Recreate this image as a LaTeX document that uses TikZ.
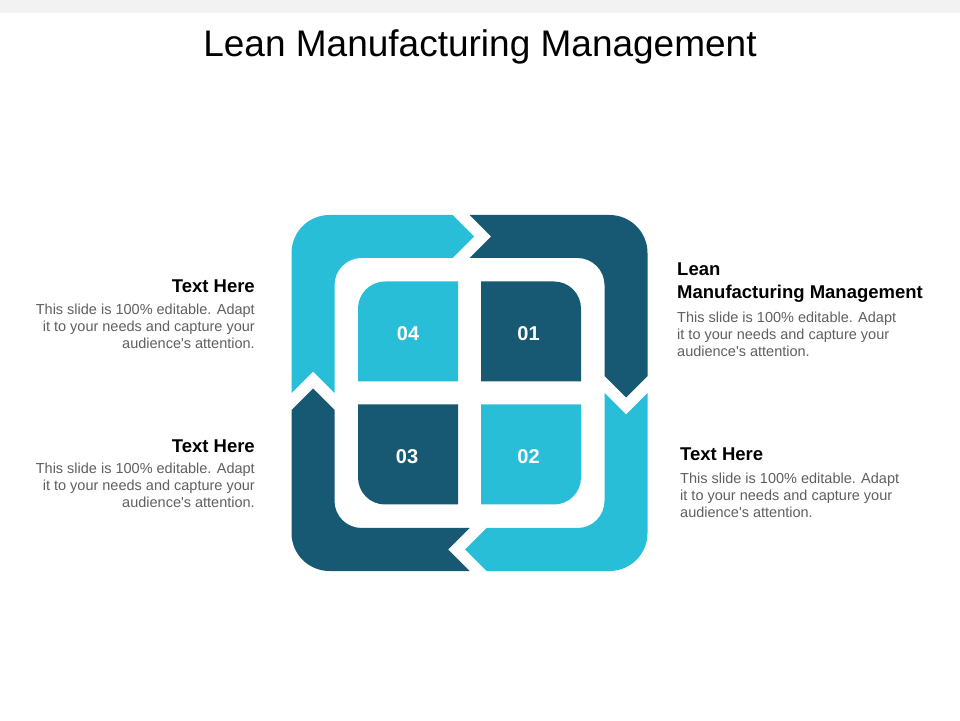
\documentclass[tikz,border=0pt]{standalone}
\usepackage{fontspec}
\setmainfont{Liberation Sans}
\usepackage{xcolor}
\usepackage{tikz}
\definecolor{lightblue}{RGB}{41,190,216}
\definecolor{darkblue}{RGB}{23,88,115}
\definecolor{bodygray}{RGB}{95,95,95}
\definecolor{bandgray}{RGB}{242,242,242}

\begin{document}
\begin{tikzpicture}[x=1pt,y=1pt,
  heading/.style={font=\fontsize{18.5}{23}\selectfont\bfseries, inner sep=0pt},
  bodytext/.style={font=\fontsize{14.5}{17}\selectfont, text=bodygray, inner sep=0pt},
  number/.style={font=\fontsize{20}{24}\selectfont\bfseries, text=white}]
	\useasboundingbox (0,0) rectangle (960,720);
	\fill[bandgray] (0,707) rectangle (960,720);
	\node[font=\fontsize{37}{44}\selectfont, anchor=base, inner sep=0pt] (title) at (480,663) {Lean Manufacturing Management};
	\begin{scope}[shift={(469.5,327)}]
		% arrows round the square
		\fill[lightblue] (-178,0) -- (-178,140) arc[start angle=180,end angle=90,radius=38] -- (-17,178) -- (4.5,156.5) -- (-17,135) -- (-108,135) arc[start angle=90,end angle=180,radius=27] -- (-135,0) -- (-156.5,21.5) -- cycle;
		\fill[darkblue,rotate=-90] (-178,0) -- (-178,140) arc[start angle=180,end angle=90,radius=38] -- (-17,178) -- (4.5,156.5) -- (-17,135) -- (-108,135) arc[start angle=90,end angle=180,radius=27] -- (-135,0) -- (-156.5,21.5) -- cycle;
		\fill[lightblue,rotate=-180] (-178,0) -- (-178,140) arc[start angle=180,end angle=90,radius=38] -- (-17,178) -- (4.5,156.5) -- (-17,135) -- (-108,135) arc[start angle=90,end angle=180,radius=27] -- (-135,0) -- (-156.5,21.5) -- cycle;
		\fill[darkblue,rotate=-270] (-178,0) -- (-178,140) arc[start angle=180,end angle=90,radius=38] -- (-17,178) -- (4.5,156.5) -- (-17,135) -- (-108,135) arc[start angle=90,end angle=180,radius=27] -- (-135,0) -- (-156.5,21.5) -- cycle;
		% inner squares
		\fill[lightblue] (-11.5,11.5) -- (-111.5,11.5) -- (-111.5,84.5) arc[start angle=180,end angle=90,radius=27] -- (-11.5,111.5) -- cycle;
		\fill[darkblue,rotate=-90] (-11.5,11.5) -- (-111.5,11.5) -- (-111.5,84.5) arc[start angle=180,end angle=90,radius=27] -- (-11.5,111.5) -- cycle;
		\fill[lightblue,rotate=-180] (-11.5,11.5) -- (-111.5,11.5) -- (-111.5,84.5) arc[start angle=180,end angle=90,radius=27] -- (-11.5,111.5) -- cycle;
		\fill[darkblue,rotate=-270] (-11.5,11.5) -- (-111.5,11.5) -- (-111.5,84.5) arc[start angle=180,end angle=90,radius=27] -- (-11.5,111.5) -- cycle;
		\node[number] (n04) at (-61.5,59) {04};
		\node[number] (n01) at (59,59) {01};
		\node[number] (n02) at (59,-63.5) {02};
		\node[number] (n03) at (-62.5,-63.5) {03};
	\end{scope}
	% texts
	\node[heading, anchor=base east] (headA) at (255,427) {Text Here};
	\node[bodytext, anchor=base east, align=right] (bodyA) at (255,371) {This slide is 100\% editable. Adapt\\it to your needs and capture your\\audience\textquotesingle s attention.};
	\node[heading, anchor=base west, align=left] (headB) at (677,421) {Lean\\Manufacturing Management};
	\node[bodytext, anchor=base west, align=left] (bodyB) at (677,363) {This slide is 100\% editable. Adapt\\it to your needs and capture your\\audience\textquotesingle s attention.};
	\node[heading, anchor=base west] (headC) at (680,259) {Text Here};
	\node[bodytext, anchor=base west, align=left] (bodyC) at (680,202) {This slide is 100\% editable. Adapt\\it to your needs and capture your\\audience\textquotesingle s attention.};
	\node[heading, anchor=base east] (headD) at (255,267) {Text Here};
	\node[bodytext, anchor=base east, align=right] (bodyD) at (255,212) {This slide is 100\% editable. Adapt\\it to your needs and capture your\\audience\textquotesingle s attention.};
\end{tikzpicture}
\end{document}
